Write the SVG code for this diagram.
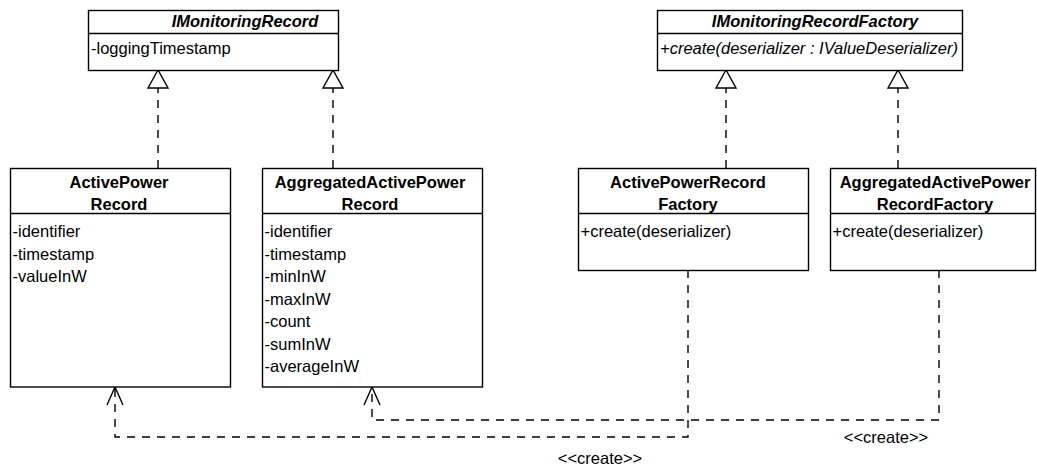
<svg xmlns="http://www.w3.org/2000/svg" width="1037" height="465" viewBox="0 0 1037 465">
  <style>
    text { font-family: "Liberation Sans", Arial, sans-serif; font-size: 16.5px; fill: #000; }
    .title { font-weight: bold; text-anchor: middle; }
    .abstract { font-weight: bold; font-style: italic; text-anchor: middle; }
    .op-abstract { font-style: italic; }
    .box { fill: #fff; stroke: #000; stroke-width: 1.4; }
    .sep { stroke: #000; stroke-width: 1.4; fill: none; }
    .dep { fill: none; stroke: #000; stroke-width: 1.4; stroke-dasharray: 8 7; }
  </style>
  <defs>
    <!-- hollow triangle for realization -->
    <marker id="realize" markerUnits="userSpaceOnUse" viewBox="-1 -1 20 22" refX="18" refY="10" markerWidth="20" markerHeight="22" orient="auto" overflow="visible">
      <path d="M0,0 L18,10 L0,20 Z" fill="#fff" stroke="#000" stroke-width="1.4" stroke-dasharray="none"/>
    </marker>
    <!-- open arrowhead for dependency -->
    <marker id="open" markerUnits="userSpaceOnUse" viewBox="-1 -1 20 18" refX="18" refY="8" markerWidth="20" markerHeight="18" orient="auto" overflow="visible">
      <path d="M0,0 L18,8 L0,16" fill="none" stroke="#000" stroke-width="1.4" stroke-dasharray="none"/>
    </marker>
  </defs>

  <rect width="1037" height="465" fill="#fff"/>

  <!-- connectors -->
  <g id="connectors">
    <path class="dep" d="M158,168 V70" marker-end="url(#realize)"/>
    <path class="dep" d="M333,168 V70" marker-end="url(#realize)"/>
    <path class="dep" d="M726,168 V70" marker-end="url(#realize)"/>
    <path class="dep" d="M898,168 V70" marker-end="url(#realize)"/>
    <path class="dep" d="M688,270 V437 H115 V387" marker-end="url(#open)"/>
    <path class="dep" d="M939,270 V420 H372 V387" marker-end="url(#open)"/>
    <text x="886" y="443" text-anchor="middle">&lt;&lt;create&gt;&gt;</text>
    <text x="600" y="464" text-anchor="middle">&lt;&lt;create&gt;&gt;</text>
  </g>

  <!-- interfaces -->
  <g id="IMonitoringRecord">
    <rect class="box" x="88.5" y="10.5" width="250" height="60"/>
    <line class="sep" x1="88.5" y1="33.5" x2="338.5" y2="33.5"/>
    <text class="abstract" x="245" y="27">IMonitoringRecord</text>
    <text x="91" y="54">-loggingTimestamp</text>
  </g>

  <g id="IMonitoringRecordFactory">
    <rect class="box" x="657.5" y="10.5" width="305" height="60"/>
    <line class="sep" x1="657.5" y1="33.5" x2="962.5" y2="33.5"/>
    <text class="abstract" x="815" y="27">IMonitoringRecordFactory</text>
    <text class="op-abstract" x="660" y="54">+create(deserializer : IValueDeserializer)</text>
  </g>

  <!-- record classes -->
  <g id="ActivePowerRecord">
    <rect class="box" x="10.5" y="168.5" width="220" height="218.5"/>
    <line class="sep" x1="10.5" y1="213.5" x2="230.5" y2="213.5"/>
    <text class="title" x="119" y="188">ActivePower</text>
    <text class="title" x="119" y="209.5">Record</text>
    <text x="12.5" y="237">-identifier</text>
    <text x="12.5" y="259.5">-timestamp</text>
    <text x="12.5" y="282">-valueInW</text>
  </g>

  <g id="AggregatedActivePowerRecord">
    <rect class="box" x="262.5" y="168.5" width="220" height="218.5"/>
    <line class="sep" x1="262.5" y1="213.5" x2="482.5" y2="213.5"/>
    <text class="title" x="370" y="188">AggregatedActivePower</text>
    <text class="title" x="370" y="209.5">Record</text>
    <text x="264.5" y="237">-identifier</text>
    <text x="264.5" y="259.5">-timestamp</text>
    <text x="264.5" y="282">-minInW</text>
    <text x="264.5" y="304.5">-maxInW</text>
    <text x="264.5" y="327">-count</text>
    <text x="264.5" y="349.5">-sumInW</text>
    <text x="264.5" y="372">-averageInW</text>
  </g>

  <!-- factory classes -->
  <g id="ActivePowerRecordFactory">
    <rect class="box" x="578.5" y="168.5" width="230" height="102"/>
    <line class="sep" x1="578.5" y1="213.5" x2="808.5" y2="213.5"/>
    <text class="title" x="688" y="188">ActivePowerRecord</text>
    <text class="title" x="688" y="209.5">Factory</text>
    <text x="580.5" y="237">+create(deserializer)</text>
  </g>

  <g id="AggregatedActivePowerRecordFactory">
    <rect class="box" x="830.5" y="168.5" width="205" height="102"/>
    <line class="sep" x1="830.5" y1="213.5" x2="1035.5" y2="213.5"/>
    <text class="title" x="935" y="188">AggregatedActivePower</text>
    <text class="title" x="935" y="209.5">RecordFactory</text>
    <text x="832.5" y="237">+create(deserializer)</text>
  </g>
</svg>
